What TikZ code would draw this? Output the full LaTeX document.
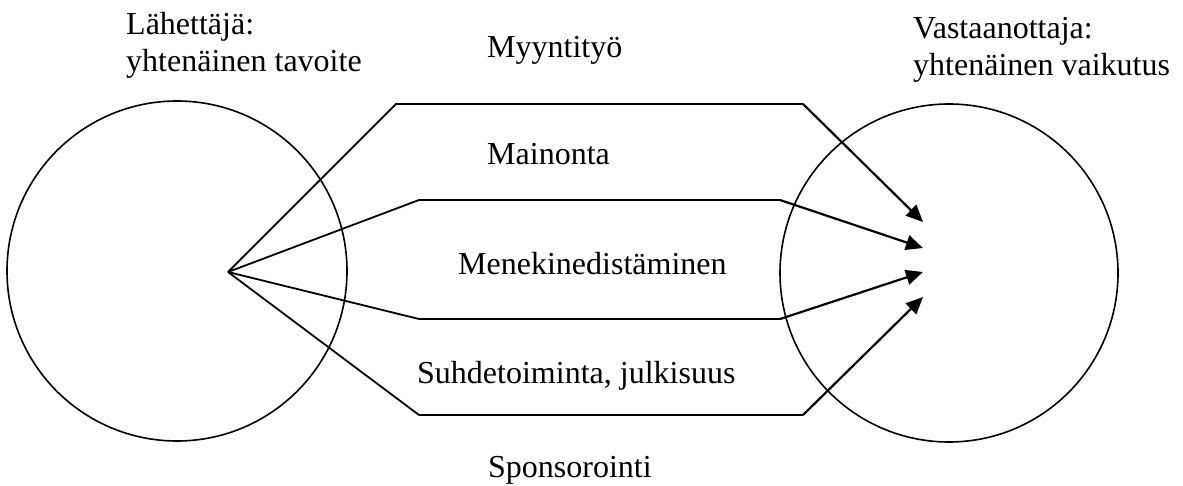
\documentclass[tikz,border=0pt]{standalone}
\usepackage{fontspec}
\setmainfont{Liberation Serif}
\usetikzlibrary{arrows.meta}
\begin{document}
\begin{tikzpicture}[x=1pt,y=-1pt,
  lbl/.style={anchor=base west,inner sep=0pt,font=\fontsize{32}{37}\selectfont},
  ring/.style={draw,line width=1.6pt},
  chan/.style={line width=1.8pt,line join=miter},
  arr/.style={line width=2.2pt,-{Triangle[length=17pt,width=15pt]}}]
\useasboundingbox (0,0) rectangle (1183,486);
% circles
\draw[ring] (177,271) circle (170);
\draw[ring] (949,273) circle (169);
% coordinates
\coordinate (src) at (228,272);
\coordinate (a1) at (396,104); \coordinate (a2) at (803,104); \coordinate (t1) at (923,222);
\coordinate (b1) at (419,200); \coordinate (b2) at (780,200); \coordinate (t2) at (923,248);
\coordinate (c1) at (419,319); \coordinate (c2) at (780,319); \coordinate (t3) at (923,272);
\coordinate (d1) at (419,415); \coordinate (d2) at (803,415); \coordinate (t4) at (923,297);
% channels
\draw[chan] (src) -- (a1) -- (a2);
\draw[chan] (src) -- (b1) -- (b2);
\draw[chan] (src) -- (c1) -- (c2);
\draw[chan] (src) -- (d1) -- (d2);
\draw[arr] (a2) -- (t1);
\draw[arr] (b2) -- (t2);
\draw[arr] (c2) -- (t3);
\draw[arr] (d2) -- (t4);
% labels
\node[lbl] (s1) at (126,35) {Lähettäjä:};
\node[lbl] (s2) at (126,72) {yhtenäinen tavoite};
\node[lbl] (r1) at (913,39) {Vastaanottaja:};
\node[lbl] (r2) at (913,76) {yhtenäinen vaikutus};
\node[lbl] (m1) at (487,58) {Myyntityö};
\node[lbl] (m2) at (487,165) {Mainonta};
\node[lbl] (m3) at (458,275) {Menekinedistäminen};
\node[lbl] (m4) at (417,383) {Suhdetoiminta, julkisuus};
\node[lbl] (m5) at (488,477) {Sponsorointi};
\end{tikzpicture}
\end{document}
